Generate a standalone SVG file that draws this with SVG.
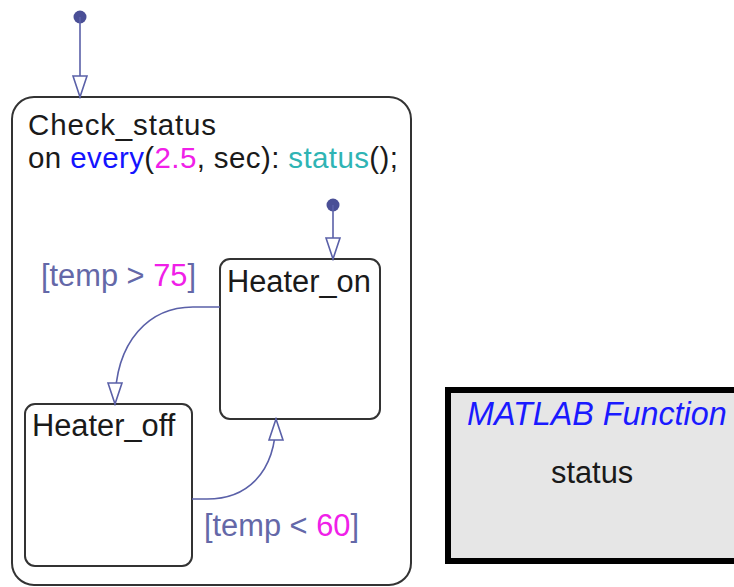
<svg xmlns="http://www.w3.org/2000/svg" width="734" height="587" viewBox="0 0 734 587">
<style>
text{font-family:"Liberation Sans",Arial,sans-serif;font-size:30.8px;fill:#1a1a1a}
.hd{font-size:29.5px}
.state{fill:#fff;stroke:#333;stroke-width:2}
.tr{fill:none;stroke:#5a60a8;stroke-width:1.6}
.dot{fill:#4a4f96}
.lbl{fill:#6468a8}
.num{fill:#f020e8}
.kw{fill:#1414ff}
.fn{fill:#2fb4b4}
.mf{fill:#1a1aff;font-style:italic;font-size:32.3px}
</style>
<defs>
<marker id="ah" markerWidth="24" markerHeight="16" refX="22" refY="8" orient="auto" markerUnits="userSpaceOnUse" viewBox="0 0 24 16">
<path d="M1,1 L1,15 L22,8 Z" fill="#fff" stroke="#5a60a8" stroke-width="1.6"/>
</marker>
</defs>
<g id="Check_status">
<rect class="state" x="12" y="97" width="399" height="488" rx="22" ry="22"/>
<text class="hd" x="28" y="135" textLength="188" lengthAdjust="spacing">Check_status</text>
<text class="hd" x="28" y="168" textLength="370" lengthAdjust="spacing">on <tspan class="kw">every</tspan>(<tspan class="num">2.5</tspan>, sec): <tspan class="fn">status</tspan>();</text>
</g>
<g id="Heater_on">
<rect class="state" x="220" y="259" width="160" height="160" rx="10" ry="10"/>
<text x="227" y="292">Heater_on</text>
</g>
<g id="Heater_off">
<rect class="state" x="25" y="404" width="167" height="162" rx="10" ry="10"/>
<text x="32" y="436">Heater_off</text>
</g>
<g id="MATLAB_Function">
<rect x="448" y="390" width="300" height="171" fill="#e6e6e6" stroke="#000" stroke-width="6"/>
<text class="mf" x="467" y="425">MATLAB Function</text>
<text x="551" y="483">status</text>
</g>
<g id="connectors">
<circle class="dot" cx="80" cy="17" r="6.5"/>
<path class="tr" d="M80,17 L80,97" marker-end="url(#ah)"/>
<circle class="dot" cx="333" cy="205" r="6.5"/>
<path class="tr" d="M333,205 L333,259" marker-end="url(#ah)"/>
<path class="tr" d="M220,307 L193,307 C150,307 115,340 115,404" marker-end="url(#ah)"/>
<path class="tr" d="M192,499 L207,499 C245,499 276,475 276,419" marker-end="url(#ah)"/>
<text class="lbl" x="41" y="286">[temp &gt; <tspan class="num">75</tspan>]</text>
<text class="lbl" x="204" y="536">[temp &lt; <tspan class="num">60</tspan>]</text>
</g>
</svg>
